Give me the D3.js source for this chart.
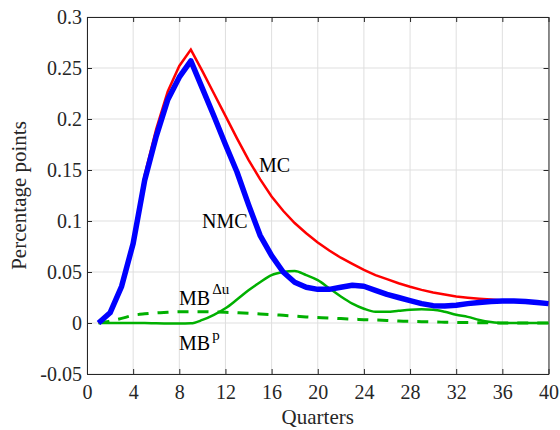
<!DOCTYPE html>
<html>
<head>
<meta charset="utf-8">
<script src="https://cdn.jsdelivr.net/npm/d3@7"></script>
<style>
  html, body { margin: 0; padding: 0; background: #fff; }
</style>
</head>
<body>
<svg id="chart" width="560" height="430"></svg>
<script>
const quarters = d3.range(1, 41);
const mc = [0, 0.010, 0.037, 0.080, 0.145, 0.190, 0.227, 0.252, 0.268, 0.247,
            0.225, 0.203, 0.181, 0.160, 0.141, 0.124, 0.110, 0.098, 0.088, 0.079,
            0.071, 0.064, 0.058, 0.052, 0.047, 0.043, 0.039, 0.0355, 0.0325, 0.030,
            0.028, 0.026, 0.0248, 0.0238, 0.023, 0.022, 0.0213, 0.0207, 0.020, 0.019];
const nmc = [0, 0.010, 0.036, 0.078, 0.140, 0.183, 0.219, 0.241, 0.257, 0.230,
             0.203, 0.175, 0.148, 0.116, 0.086, 0.066, 0.050, 0.040, 0.035, 0.033,
             0.033, 0.035, 0.037, 0.036, 0.032, 0.028, 0.025, 0.022, 0.019, 0.017,
             0.0167, 0.0175, 0.019, 0.020, 0.021, 0.0215, 0.0215, 0.021, 0.020, 0.019];
const mbDu = [0, 0, 0, 0, 0, -0.0003, -0.0004, -0.0005, -0.0003, 0.003,
              0.008, 0.0144, 0.023, 0.032, 0.040, 0.047, 0.050, 0.051, 0.047, 0.042,
              0.034, 0.026, 0.019, 0.014, 0.011, 0.011, 0.012, 0.013, 0.0134, 0.013,
              0.011, 0.008, 0.006, 0.003, 0.001, 0, 0, 0, 0, 0];
const mbP = [0, 0.002, 0.0045, 0.0075, 0.009, 0.010, 0.0105, 0.011, 0.011, 0.011,
             0.0108, 0.0105, 0.010, 0.0095, 0.0088, 0.0082, 0.0075, 0.0068, 0.006, 0.0054,
             0.0048, 0.0043, 0.0038, 0.0033, 0.0029, 0.0025, 0.002, 0.0016, 0.0013, 0.001,
             0.0008, 0.0006, 0.0004, 0.0003, 0.0001, 0, 0, 0, 0, 0];
const xTicks = [0, 4, 8, 12, 16, 20, 24, 28, 32, 36, 40];
const yTicks = [-0.05, 0, 0.05, 0.1, 0.15, 0.2, 0.25, 0.3];
const yTickLabels = ["-0.05", "0", "0.05", "0.1", "0.15", "0.2", "0.25", "0.3"];

const FONT = '"Liberation Serif", "Times New Roman", serif';
const svg = d3.select("#chart");
const L = 87, T = 17, R = 548.5, B = 374;
const x = d3.scaleLinear().domain([0, 40]).range([L, R]);
const y = d3.scaleLinear().domain([-0.05, 0.3]).range([B, T]);

// grid
const grid = svg.append("g");
grid.selectAll(".gx").data(xTicks).enter().append("line")
  .attr("x1", d => x(d)).attr("x2", d => x(d)).attr("y1", T).attr("y2", B)
  .attr("stroke", "#dfdfdf").attr("stroke-width", 1);
grid.selectAll(".gy").data(yTicks).enter().append("line")
  .attr("y1", d => y(d)).attr("y2", d => y(d)).attr("x1", L).attr("x2", R)
  .attr("stroke", "#dfdfdf").attr("stroke-width", 1);

// axes
const axisColor = "#262626";
const xAxis = d3.axisBottom(x).tickValues(xTicks).tickSizeInner(-5).tickSizeOuter(0).tickPadding(11);
const yAxis = d3.axisLeft(y).tickValues(yTicks).tickSizeInner(-5).tickSizeOuter(0).tickPadding(5)
  .tickFormat((d, i) => yTickLabels[i]);
const xTop = d3.axisTop(x).tickValues(xTicks).tickSizeInner(-5).tickSizeOuter(0).tickFormat("");
const yRight = d3.axisRight(y).tickValues(yTicks).tickSizeInner(-5).tickSizeOuter(0).tickFormat("");

function style(g) {
  g.attr("font-family", FONT).attr("font-size", 20);
  g.selectAll("path").attr("stroke", axisColor).attr("stroke-width", 1);
  g.selectAll("line").attr("stroke", axisColor).attr("stroke-width", 1);
  g.selectAll("text").attr("fill", "#262626").attr("font-size", 20).attr("font-family", FONT);
}
svg.append("g").attr("transform", `translate(0,${B})`).call(xAxis).call(style);
svg.append("g").attr("transform", `translate(${L},0)`).call(yAxis).call(style);
svg.append("g").attr("transform", `translate(0,${T})`).call(xTop).call(style);
svg.append("g").attr("transform", `translate(${R},0)`).call(yRight).call(style);

// lines
const lineLin = d3.line().x((d, i) => x(quarters[i])).y(d => y(d));
const lineSmooth = d3.line().x((d, i) => x(quarters[i])).y(d => y(d)).curve(d3.curveMonotoneX);

svg.append("path").datum(mbP).attr("d", lineSmooth).attr("fill", "none")
  .attr("stroke", "#00b000").attr("stroke-width", 3).attr("stroke-dasharray", "11,9");
svg.append("path").datum(mbDu).attr("d", lineSmooth).attr("fill", "none")
  .attr("stroke", "#00b000").attr("stroke-width", 2.5);
svg.append("path").datum(mc).attr("d", lineLin).attr("fill", "none")
  .attr("stroke", "#ff0000").attr("stroke-width", 2.5).attr("stroke-linejoin", "miter");
svg.append("path").datum(nmc).attr("d", lineLin).attr("fill", "none")
  .attr("stroke", "#0000ff").attr("stroke-width", 5.5).attr("stroke-linejoin", "round");

// axis labels
svg.append("text").attr("x", (L + R) / 2).attr("y", 424).attr("text-anchor", "middle")
  .attr("font-family", FONT).attr("font-size", 21).attr("fill", "#262626").text("Quarters");
svg.append("text").attr("transform", `translate(26,${(T + B) / 2}) rotate(-90)`)
  .attr("font-family", FONT).attr("text-anchor", "middle").attr("font-size", 21).attr("fill", "#262626")
  .text("Percentage points");

// annotations
const ann = svg.append("g").attr("fill", "#000").attr("font-size", 20).attr("font-family", FONT);
ann.append("text").attr("x", 259).attr("y", 172).text("MC");
ann.append("text").attr("x", 202).attr("y", 228).text("NMC");
const t1 = ann.append("text").attr("x", 179).attr("y", 305);
t1.append("tspan").text("MB");
t1.append("tspan").attr("dx", 2).attr("dy", -11).attr("font-size", 15).text("Δu");
const t2 = ann.append("text").attr("x", 179).attr("y", 350);
t2.append("tspan").text("MB");
t2.append("tspan").attr("dx", 2).attr("dy", -10).attr("font-size", 15).text("p");
</script>
</body>
</html>
